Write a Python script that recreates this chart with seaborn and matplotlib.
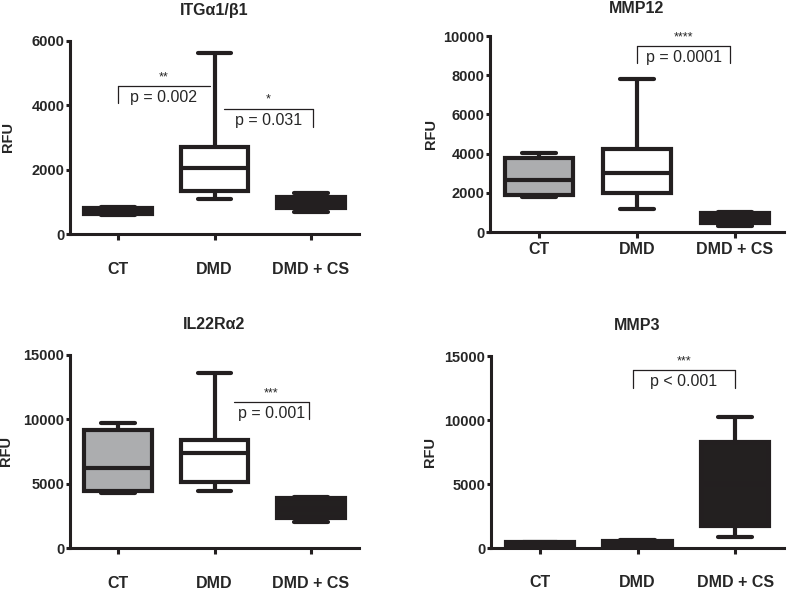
import pandas as pd
import matplotlib.pyplot as plt
import seaborn as sns

groups = ['CT', 'DMD', 'DMD + CS']
colors = ['#abadb0', '#ffffff', '#231f20']

# five-number summaries (min, q1, median, q3, max)
itg_ct = [600, 620, 700, 800, 850]
itg_dmd = [1080, 1340, 2050, 2700, 5620]
itg_cs = [690, 800, 1000, 1150, 1270]

mmp12_ct = [1780, 1890, 2650, 3770, 4030]
mmp12_dmd = [1170, 2000, 3000, 4230, 7800]
mmp12_cs = [310, 450, 700, 950, 1020]

il22_ct = [4270, 4430, 6220, 9170, 9710]
il22_dmd = [4430, 5130, 7380, 8390, 13600]
il22_cs = [2020, 2330, 3000, 3880, 3960]

mmp3_ct = [200, 250, 350, 450, 500]
mmp3_dmd = [150, 250, 400, 550, 600]
mmp3_cs = [860, 1720, 5000, 8280, 10230]

titles = ['ITGα1/β1', 'MMP12', 'IL22Rα2', 'MMP3']
ymax = [6000, 10000, 15000, 15000]
yticks = [[0, 2000, 4000, 6000], [0, 2000, 4000, 6000, 8000, 10000],
          [0, 5000, 10000, 15000], [0, 5000, 10000, 15000]]

# brackets: (x0, x1, y, drop_left, drop_right, stars, ptext)
brackets = [
    [(0, 0.95, 4600, 4060, None, '**', 'p = 0.002'),
     (1.1, 2.02, 3900, None, 3320, '*', 'p = 0.031')],
    [(1, 1.95, 9490, 8620, 8620, '****', 'p = 0.0001')],
    [(1.2, 1.98, 11350, None, 10020, '***', 'p = 0.001')],
    [(0.95, 2.0, 13900, 12500, 12500, '***', 'p < 0.001')],
]

panels = [
    [itg_ct, itg_dmd, itg_cs],
    [mmp12_ct, mmp12_dmd, mmp12_cs],
    [il22_ct, il22_dmd, il22_cs],
    [mmp3_ct, mmp3_dmd, mmp3_cs],
]

sns.set_style('white')
plt.rcParams['font.family'] = ['Liberation Sans', 'DejaVu Sans']

fig = plt.figure(figsize=(7.87, 5.90), dpi=100)
positions = [
    [70 / 787, 1 - 234 / 590, 289 / 787, 193 / 590],
    [490 / 787, 1 - 232 / 590, 294 / 787, 196 / 590],
    [70 / 787, 1 - 548 / 590, 289 / 787, 193 / 590],
    [491 / 787, 1 - 548 / 590, 293 / 787, 192 / 590],
]
xpads = [15.5, 3, 16, 15]
title_pads = [19, 16.5, 18.5, 19]
ylab_x = [-0.19, -0.177, -0.198, -0.184]
edge = '#231f20'

for i, vals in enumerate(panels):
    ax = fig.add_axes(positions[i])
    df = pd.DataFrame({
        'group': [g for g, v in zip(groups, vals) for _ in v],
        'RFU': [x for v in vals for x in v],
    })
    sns.boxplot(data=df, x='group', y='RFU', hue='group', palette=colors,
                order=groups, hue_order=groups, whis=(0, 100), width=0.7,
                linewidth=3, linecolor=edge, legend=False, ax=ax)
    ax.set_xlim(-0.5, 2.5)
    ax.set_ylim(0, ymax[i])
    ax.set_yticks(yticks[i])
    ax.set_ylabel('RFU', fontsize=10.5, fontweight='bold')
    ax.yaxis.set_label_coords(ylab_x[i], 0.5)
    ax.set_xlabel('')
    ax.set_title(titles[i], fontsize=11.5, fontweight='bold', pad=title_pads[i])
    for side in ['top', 'right']:
        ax.spines[side].set_visible(False)
    for side in ['left', 'bottom']:
        ax.spines[side].set_linewidth(2.2)
        ax.spines[side].set_color(edge)
        ax.spines[side].set_zorder(5)
    ax.tick_params(axis='x', direction='out', length=4.3, width=2.2,
                   color=edge, pad=xpads[i], labelsize=11.5)
    ax.tick_params(axis='y', direction='out', length=3, width=2.2,
                   color=edge, pad=1, labelsize=10.5)
    ax.tick_params(bottom=True, left=True)
    for lab in ax.get_xticklabels() + ax.get_yticklabels():
        lab.set_fontweight('bold')

    # significance brackets
    for x0, x1, y, dl, dr, stars, ptxt in brackets[i]:
        ax.plot([x0, x1], [y, y], color=edge, lw=0.9, clip_on=False)
        if dl is not None:
            ax.plot([x0, x0], [y, dl], color=edge, lw=0.9, clip_on=False)
        if dr is not None:
            ax.plot([x1, x1], [y, dr], color=edge, lw=0.9, clip_on=False)
        xm = (x0 + x1) / 2
        ax.annotate(stars, (xm, y), xytext=(0, 2), textcoords='offset points',
                    ha='center', va='bottom', fontsize=9, clip_on=False)
        ax.annotate(ptxt, (xm, y), xytext=(0, -3), textcoords='offset points',
                    ha='center', va='top', fontsize=11.5, clip_on=False)

fig.savefig('out.png', dpi=100)
